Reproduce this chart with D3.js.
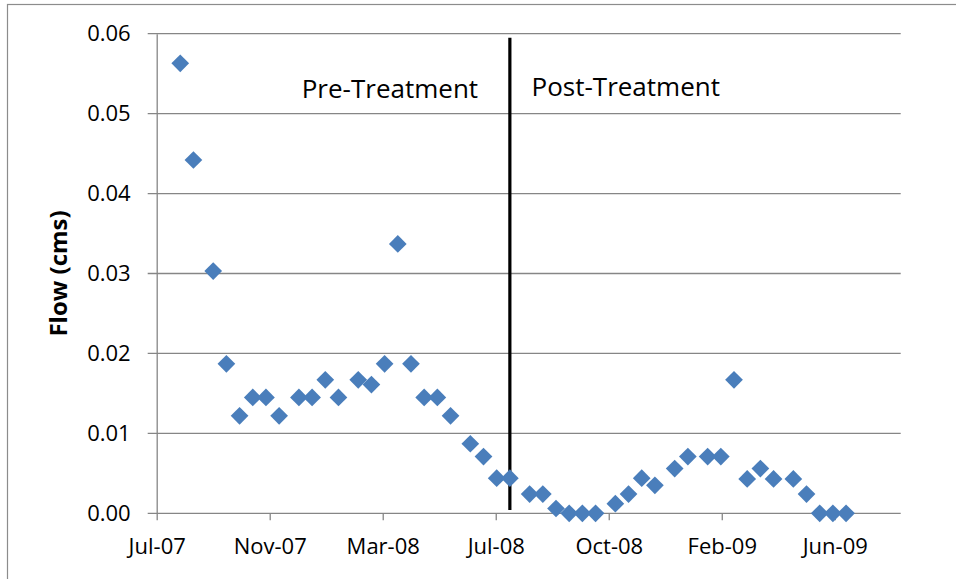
<!DOCTYPE html>
<html>
<head>
<meta charset="utf-8">
<script src="https://cdn.jsdelivr.net/npm/d3@7"></script>
<style>
  body { margin: 0; background: #fff; }
  text { font-family: 'Open Sans', sans-serif; fill: #000; }
</style>
</head>
<body>
<div id="chart"></div>
<script>
// sample dates and flow values (cms)
let sampleDates = [
  '2007-08-01', '2007-08-15', '2007-09-05', '2007-09-19', '2007-10-03', '2007-10-17',
  '2007-10-31', '2007-11-14', '2007-12-05', '2007-12-19', '2008-01-02', '2008-01-16',
  '2008-02-06', '2008-02-20', '2008-03-05', '2008-03-19', '2008-04-02', '2008-04-16',
  '2008-04-30', '2008-05-14', '2008-06-04', '2008-06-18', '2008-07-02', '2008-07-16',
  '2008-08-06', '2008-08-20', '2008-09-03', '2008-09-17', '2008-10-01', '2008-10-15',
  '2008-11-05', '2008-11-19', '2008-12-03', '2008-12-17', '2009-01-07', '2009-01-21',
  '2009-02-11', '2009-02-25', '2009-03-11', '2009-03-25', '2009-04-08', '2009-04-22',
  '2009-05-13', '2009-05-27', '2009-06-10', '2009-06-24', '2009-07-08'
]
let flowValues = [
  0.0563, 0.0442, 0.0303, 0.0187, 0.0122, 0.0145,
  0.0145, 0.0122, 0.0145, 0.0145, 0.0167, 0.0145,
  0.0167, 0.0161, 0.0187, 0.0337, 0.0187, 0.0145,
  0.0145, 0.0122, 0.0087, 0.0071, 0.0044, 0.0044,
  0.0024, 0.0024, 0.0006, 0.0, 0.0, 0.0,
  0.0012, 0.0024, 0.0044, 0.0035, 0.0056, 0.0071,
  0.0071, 0.0071, 0.0167, 0.0043, 0.0056, 0.0043,
  0.0043, 0.0024, 0.0, 0.0, 0.0
]

// axis settings
let xDomain = ['2007-07-07', '2009-09-04']
let xTickDates = ['2007-07-07', '2007-11-04', '2008-03-03', '2008-07-01', '2008-10-29', '2009-02-26', '2009-06-26']
let yTicks = [0, 0.01, 0.02, 0.03, 0.04, 0.05, 0.06]

// treatment marker and period labels
let treatmentDate = '2008-07-16'
let treatmentSpan = [0.0004, 0.0595]
let periodLabels = ['Pre-Treatment', 'Post-Treatment']
let periodLabelDates = ['2007-12-08', '2008-08-08']
let periodLabelValues = [0.0519, 0.0522]

let parse = d3.utcParse('%Y-%m-%d')

let width = 956
let height = 579
let margin = { top: 33.7, left: 156.7, right: 55.3, bottom: 65.7 }

let svg = d3.select('#chart')
  .append('svg')
  .attr('width', width)
  .attr('height', height)

// chart area border
svg.append('rect')
  .attr('x', 7.5)
  .attr('y', 4.5)
  .attr('width', width + 20)
  .attr('height', height + 20)
  .attr('fill', 'none')
  .attr('stroke', '#8c8c8c')
  .attr('stroke-width', 1.2)

let xPositionScale = d3.scaleUtc()
  .domain(xDomain.map(parse))
  .range([margin.left, width - margin.right])

let yPositionScale = d3.scaleLinear()
  .domain([0, 0.06])
  .range([height - margin.bottom, margin.top])

// gridlines
svg.append('g')
  .selectAll('line')
  .data(yTicks)
  .enter()
  .append('line')
  .attr('x1', margin.left - 9)
  .attr('x2', width - margin.right)
  .attr('y1', d => yPositionScale(d))
  .attr('y2', d => yPositionScale(d))
  .attr('stroke', '#868686')
  .attr('stroke-width', 1.3)

// y axis
let yAxis = d3.axisLeft(yPositionScale)
  .tickValues(yTicks)
  .tickFormat(d3.format('.2f'))
  .tickSize(0)
  .tickPadding(26)

svg.append('g')
  .attr('class', 'axis y-axis')
  .attr('transform', `translate(${margin.left},0)`)
  .call(yAxis)
  .call(g => g.select('.domain').attr('stroke', '#868686').attr('stroke-width', 1.3))
  .call(g => g.selectAll('text').attr('font-size', 22).attr('font-family', "'Open Sans', sans-serif"))

// x axis
let xAxis = d3.axisBottom(xPositionScale)
  .tickValues(xTickDates.map(parse))
  .tickFormat(d3.utcFormat('%b-%y'))
  .tickSize(7)
  .tickSizeOuter(0)
  .tickPadding(18)

svg.append('g')
  .attr('class', 'axis x-axis')
  .attr('transform', `translate(0,${height - margin.bottom})`)
  .call(xAxis)
  .call(g => g.select('.domain').remove())
  .call(g => g.selectAll('line').attr('stroke', '#868686').attr('stroke-width', 1.3))
  .call(g => g.selectAll('text').attr('font-size', 22).attr('font-family', "'Open Sans', sans-serif"))

// y axis title
svg.append('text')
  .text('Flow (cms)')
  .attr('font-size', 24)
  .attr('font-weight', 'bold')
  .attr('text-anchor', 'middle')
  .attr('transform', `translate(67,${(margin.top + height - margin.bottom) / 2}) rotate(-90)`)

// treatment line
svg.append('line')
  .attr('x1', xPositionScale(parse(treatmentDate)))
  .attr('x2', xPositionScale(parse(treatmentDate)))
  .attr('y1', yPositionScale(treatmentSpan[1]))
  .attr('y2', yPositionScale(treatmentSpan[0]))
  .attr('stroke', '#000')
  .attr('stroke-width', 3.2)

// points
let diamond = d3.symbol().type(d3.symbolDiamond2).size(200)

svg.append('g')
  .selectAll('path')
  .data(sampleDates)
  .enter()
  .append('path')
  .attr('d', diamond)
  .attr('transform', (d, i) => `translate(${xPositionScale(parse(d))},${yPositionScale(flowValues[i])})`)
  .attr('fill', '#4a7ebb')

// period labels
svg.append('g')
  .selectAll('text')
  .data(periodLabels)
  .enter()
  .append('text')
  .text(d => d)
  .attr('font-size', 26)
  .attr('x', (d, i) => xPositionScale(parse(periodLabelDates[i])))
  .attr('y', (d, i) => yPositionScale(periodLabelValues[i]))
</script>
</body>
</html>
